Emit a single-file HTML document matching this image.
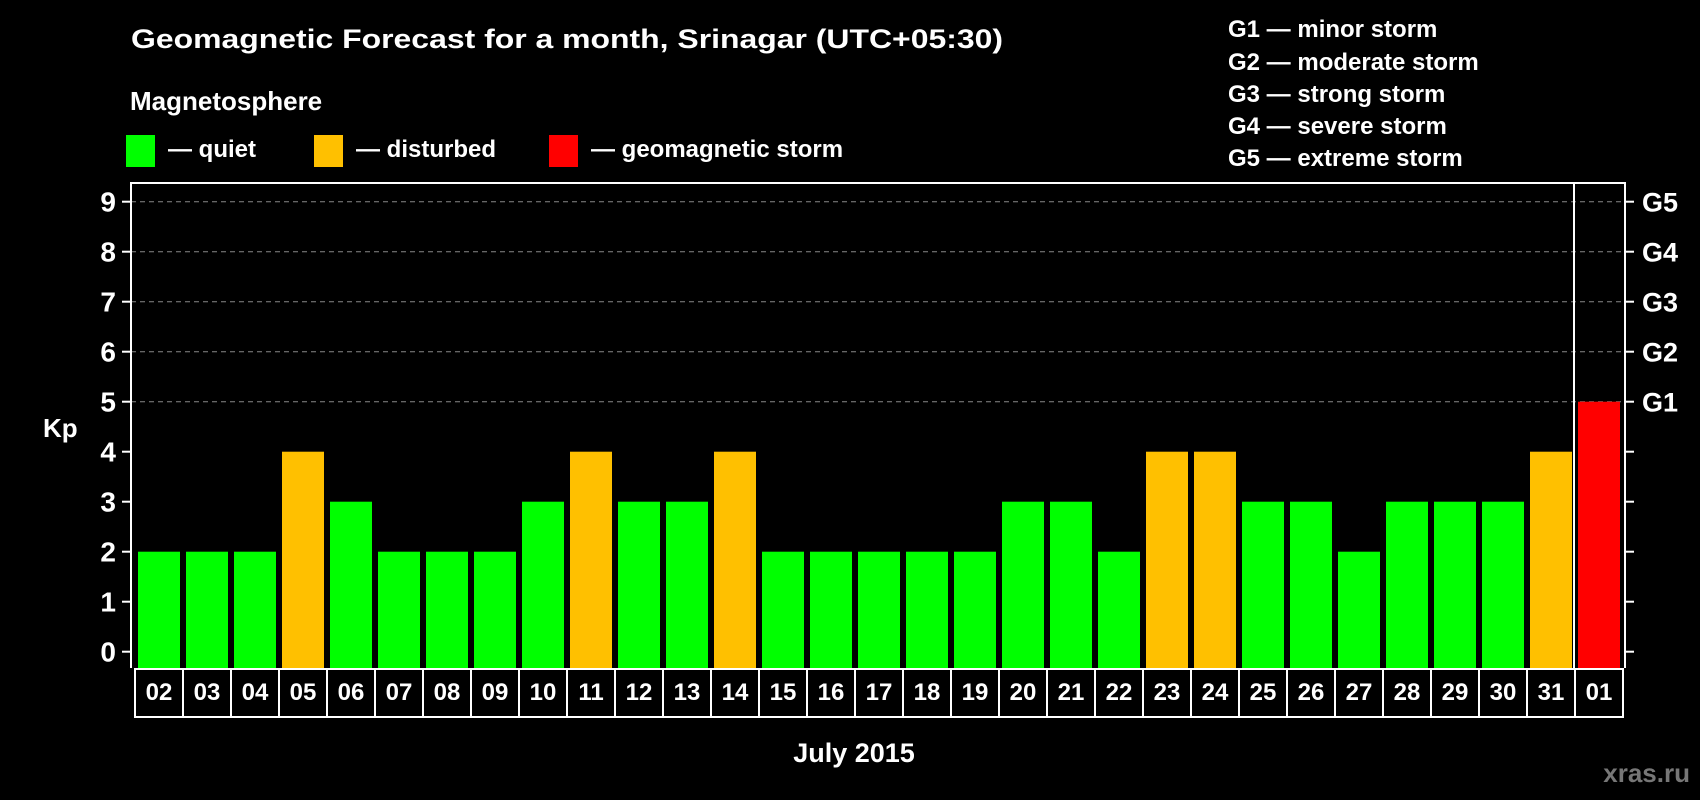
<!DOCTYPE html>
<html><head><meta charset="utf-8"><style>
html,body{margin:0;padding:0;background:#000;}
svg{display:block;font-family:"Liberation Sans",Arial,sans-serif;font-weight:bold;}
</style></head><body>
<svg id="chart" width="1700" height="800" viewBox="0 0 1700 800" xmlns="http://www.w3.org/2000/svg">
<rect x="0" y="0" width="1700" height="800" fill="#000"/>
<text x="131" y="48" font-size="27" fill="#fff" textLength="872" lengthAdjust="spacingAndGlyphs">Geomagnetic Forecast for a month, Srinagar (UTC+05:30)</text>
<text x="130" y="110" font-size="26" fill="#fff">Magnetosphere</text>
<g>
<rect x="126" y="135" width="29" height="32" fill="#00ff00"/>
<text x="168" y="157" font-size="24" fill="#fff">— quiet</text></g>
<g>
<rect x="314" y="135" width="29" height="32" fill="#ffc000"/>
<text x="356" y="157" font-size="24" fill="#fff">— disturbed</text></g>
<g>
<rect x="549" y="135" width="29" height="32" fill="#ff0000"/>
<text x="591" y="157" font-size="24" fill="#fff">— geomagnetic storm</text></g>
<g font-size="24" fill="#fff">
<text x="1228" y="37">G1 — minor storm</text>
<text x="1228" y="70">G2 — moderate storm</text>
<text x="1228" y="102">G3 — strong storm</text>
<text x="1228" y="134">G4 — severe storm</text>
<text x="1228" y="166">G5 — extreme storm</text>
</g>
<text x="43" y="437" font-size="26" fill="#fff">Kp</text>
<text x="854" y="762" font-size="27" fill="#fff" text-anchor="middle">July 2015</text>
<text x="1690" y="782" font-size="26" fill="#777" text-anchor="end">xras.ru</text>
<g id="grid"></g><g id="bars"></g><g id="axes"></g>
</svg>
<script>
const days = ["02","03","04","05","06","07","08","09","10","11","12","13","14","15","16","17","18","19","20","21","22","23","24","25","26","27","28","29","30","31","01"];
const kp = [2,2,2,4,3,2,2,2,3,4,3,3,4,2,2,2,2,2,3,3,2,4,4,3,3,2,3,3,3,4,5];
const yTicks = [0,1,2,3,4,5,6,7,8,9];
const gLabels = ["G1","G2","G3","G4","G5"];
const gLevels = [5,6,7,8,9];

const NS="http://www.w3.org/2000/svg";
const L=131,R=1625,T=183,B=668,X0=135,STEP=48;
const y=v=>651.7-v*50;
const x=i=>X0+i*STEP;
function mk(tag,attrs,parent){const e=document.createElementNS(NS,tag);for(const k in attrs)e.setAttribute(k,attrs[k]);parent.appendChild(e);return e;}
const grid=document.getElementById('grid'),bars=document.getElementById('bars'),axes=document.getElementById('axes');
yTicks.forEach(v=>{
  if(v>=5){const g=mk('line',{x1:L,x2:R,y1:y(v),y2:y(v),stroke:'#888','stroke-width':1,'stroke-dasharray':'5,4'},grid);
  
  }
  const t=mk('line',{x1:L-9,x2:L,y1:y(v),y2:y(v),stroke:'#fff','stroke-width':2},axes);
  
  
  const r=mk('line',{x1:R,x2:R+9,y1:y(v),y2:y(v),stroke:'#fff','stroke-width':2},axes);
  
  
  const lb=mk('text',{x:116,y:y(v)+10,'font-size':28,fill:'#fff','text-anchor':'end'},axes);
  lb.textContent=v;
  
  
});
gLevels.forEach((v,i)=>{
  const t=mk('text',{x:1642,y:y(v)+10,'font-size':27,fill:'#fff'},axes);
  t.textContent=gLabels[i];
  
  
});
kp.forEach((v,i)=>{
  const c=v>=5?'#ff0000':(v>=4?'#ffc000':'#00ff00');
  const b=mk('rect',{x:x(i)+3,y:y(v),width:42,height:B-y(v),fill:c},bars);
  
  
  const cell=mk('rect',{x:x(i),y:669,width:STEP,height:48,fill:'none',stroke:'#fff','stroke-width':2},axes);
  
  
  const t=mk('text',{x:x(i)+STEP/2,y:700,'font-size':24,fill:'#fff','text-anchor':'middle'},axes);
  t.textContent=days[i];
  
  
});
const f=mk('path',{d:`M${L},${B} L${L},${T} L${R},${T} L${R},${B}`,fill:'none',stroke:'#fff','stroke-width':2},axes);


const sep=mk('line',{x1:x(30)-1,x2:x(30)-1,y1:T,y2:B,stroke:'#fff','stroke-width':2},axes);


</script>
</body></html>
